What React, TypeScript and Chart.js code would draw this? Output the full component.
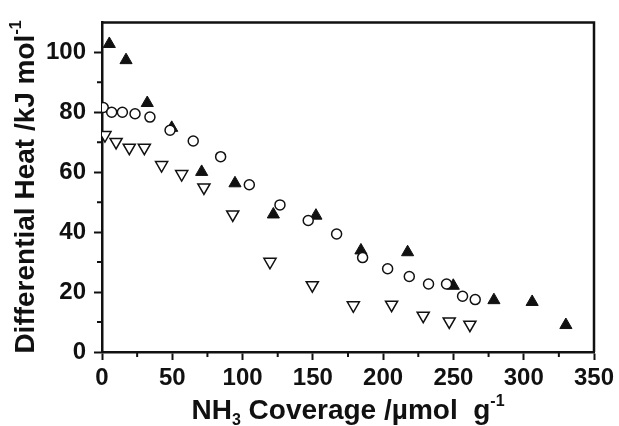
import React, { useEffect, useRef } from "react";
import { Chart, registerables } from "chart.js";
Chart.register(...registerables);

// Filled up-triangles
const filledX = [5.2, 17.1, 32.2, 49.6, 70.9, 94.6, 121.9, 152.2, 184.2, 217.4, 249.9, 278.8, 306.0, 330.0];
const filledY = [102.8, 97.4, 83.1, 74.8, 60.1, 56.3, 45.9, 45.5, 33.9, 33.3, 22.1, 17.3, 16.7, 9.0];
// Open circles
const circleX = [0.9, 6.9, 14.5, 23.5, 34.1, 48.4, 64.9, 84.4, 104.8, 126.6, 146.7, 166.9, 185.4, 203.2, 218.6, 232.3, 245.1, 256.5, 265.5];
const circleY = [81.6, 80.0, 80.0, 79.5, 78.4, 74.0, 70.4, 65.2, 55.8, 49.1, 43.9, 39.4, 31.5, 27.8, 25.2, 22.7, 22.7, 18.6, 17.5];
// Open down-triangles
const downX = [2.1, 10.0, 19.4, 30.1, 42.4, 56.7, 72.5, 93.0, 119.5, 149.6, 178.8, 206.0, 228.5, 247.0, 261.7];
const downY = [72.4, 70.1, 68.2, 68.2, 62.4, 59.4, 54.9, 45.9, 30.1, 22.3, 15.6, 15.8, 12.1, 10.2, 9.1];

const xTicks = [0, 50, 100, 150, 200, 250, 300, 350];
const yTicks = [0, 20, 40, 60, 80, 100];
const xMinor = [25, 75, 125, 175, 225, 275, 325];
const yMinor = [10, 30, 50, 70, 90];

const FONT = "'Liberation Sans', Arial, sans-serif";
const INK = "#111111";

type Seg = { t: string; s: number; dy: number };

function drawSegs(ctx: CanvasRenderingContext2D, segs: Seg[], cx: number, baseY: number) {
  let total = 0;
  const widths = segs.map((g) => {
    ctx.font = `bold ${g.s}px ${FONT}`;
    const w = ctx.measureText(g.t).width;
    total += w;
    return w;
  });
  let x = cx - total / 2;
  segs.forEach((g, i) => {
    ctx.font = `bold ${g.s}px ${FONT}`;
    ctx.fillText(g.t, x, baseY + g.dy);
    x += widths[i];
  });
}

const pts = (xs: number[], ys: number[]) => xs.map((x, i) => ({ x, y: ys[i] }));

export default function App() {
  const ref = useRef<HTMLCanvasElement>(null);
  useEffect(() => {
    const canvas = ref.current!;
    const extras = {
      id: "extras",
      afterDraw(chart: any) {
        const ctx: CanvasRenderingContext2D = chart.ctx;
        const a = chart.chartArea;
        const xs = chart.scales.x;
        const ys = chart.scales.y;
        ctx.save();
        ctx.strokeStyle = INK;
        // frame top & right
        ctx.lineWidth = 2.5;
        ctx.beginPath();
        ctx.moveTo(a.left, a.top);
        ctx.lineTo(a.right, a.top);
        ctx.lineTo(a.right, a.bottom);
        ctx.stroke();
        // minor ticks
        ctx.lineWidth = 2;
        ctx.beginPath();
        xMinor.forEach((v) => {
          const p = xs.getPixelForValue(v);
          ctx.moveTo(p, a.bottom);
          ctx.lineTo(p, a.bottom + 5);
        });
        yMinor.forEach((v) => {
          const p = ys.getPixelForValue(v);
          ctx.moveTo(a.left, p);
          ctx.lineTo(a.left - 5, p);
        });
        ctx.stroke();
        // titles
        ctx.fillStyle = INK;
        ctx.textBaseline = "alphabetic";
        ctx.textAlign = "left";
        const T = 28;
        drawSegs(
          ctx,
          [
            { t: "NH", s: T, dy: 0 },
            { t: "3", s: 16, dy: 6 },
            { t: " Coverage /\u00b5mol  g", s: T, dy: 0 },
            { t: "-1", s: 16, dy: -13 },
          ],
          (a.left + a.right) / 2,
          419
        );
        ctx.save();
        ctx.translate(34, 187);
        ctx.rotate(-Math.PI / 2);
        drawSegs(
          ctx,
          [
            { t: "Differential Heat /kJ mol", s: T, dy: 0 },
            { t: "-1", s: 16, dy: -13 },
          ],
          0,
          0
        );
        ctx.restore();
        ctx.restore();
      },
    };
    const tickFont = { family: FONT, weight: "bold" as const, size: 24 };
    const chart = new Chart(canvas, {
      type: "scatter",
      data: {
        datasets: [
          {
            data: pts(circleX, circleY),
            pointStyle: "circle",
            pointRadius: 5,
            borderWidth: 1.5,
            borderColor: INK,
            backgroundColor: "#ffffff",
          },
          {
            data: pts(filledX, filledY),
            pointStyle: "triangle",
            pointRadius: 7,
            borderWidth: 1,
            borderColor: INK,
            backgroundColor: INK,
          },
          {
            data: pts(downX, downY),
            pointStyle: "triangle",
            rotation: 180,
            pointRadius: 7,
            borderWidth: 1.5,
            borderColor: INK,
            backgroundColor: "#ffffff",
          },
        ] as any,
      },
      options: {
        animation: false,
        responsive: false,
        maintainAspectRatio: false,
        layout: { padding: { top: 12, right: 25, left: 0, bottom: 0 } },
        plugins: { legend: { display: false }, tooltip: { enabled: false } },
        scales: {
          x: {
            type: "linear",
            min: 0,
            max: 350,
            afterBuildTicks: (s: any) => {
              s.ticks = xTicks.map((v) => ({ value: v }));
            },
            afterFit: (s: any) => {
              s.height = 74;
            },
            grid: { drawOnChartArea: false, tickLength: 8, tickWidth: 2, tickColor: INK },
            border: { color: INK, width: 2.5 },
            ticks: { font: tickFont, color: INK, padding: 4, maxRotation: 0, autoSkip: false },
          },
          y: {
            type: "linear",
            min: 0,
            max: 110,
            afterBuildTicks: (s: any) => {
              s.ticks = yTicks.map((v) => ({ value: v }));
            },
            afterFit: (s: any) => {
              s.width = 102;
            },
            grid: { drawOnChartArea: false, tickLength: 8, tickWidth: 2, tickColor: INK },
            border: { color: INK, width: 2.5 },
            ticks: { font: tickFont, color: INK, padding: 8, autoSkip: false },
          },
        },
      } as any,
      plugins: [extras],
    });
    return () => chart.destroy();
  }, []);
  return (
    <div style={{ position: "fixed", left: 0, top: 0, width: 619, height: 426, background: "#fff" }}>
      <canvas ref={ref} width={619} height={426} style={{ display: "block" }} />
    </div>
  );
}
